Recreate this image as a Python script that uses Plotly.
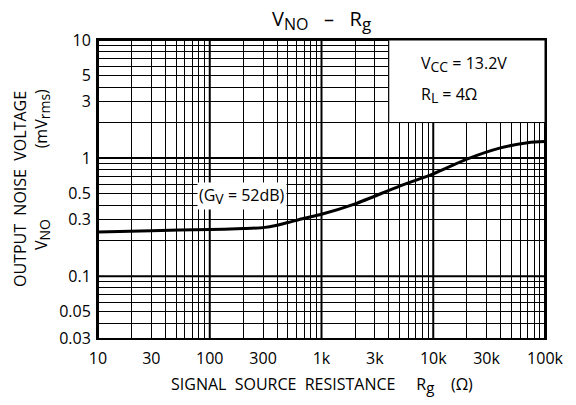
import numpy as np
import plotly.graph_objects as go

# ---- data ----
rg_ohm = [10, 30, 100, 200, 300, 400, 500, 700, 1000, 2000, 5000, 10000, 20000, 40000, 70000, 100000]
vno_mv = [0.237, 0.243, 0.249, 0.253, 0.258, 0.27, 0.285, 0.31, 0.335, 0.41, 0.58, 0.735, 0.98, 1.22, 1.35, 1.38]

x_tickvals = [10, 30, 100, 300, 1000, 3000, 10000, 30000, 100000]
x_ticktext = ["10", "30", "100", "300", "1k", "3k", "10k", "30k", "100k"]
y_tickvals = [0.03, 0.05, 0.1, 0.3, 0.5, 1, 3, 5, 10]
y_ticktext = ["0.03", "0.05", "0.1", "0.3", "0.5", "1", "3", "5", "10"]

x_decades = [10, 100, 1000, 10000, 100000]
y_decades = [0.1, 1, 10]

FONT = "Open Sans"
NB = "\u00a0"


def sub(t, size):
    return "<sub><span style='font-size:%dpx'>%s</span></sub>" % (size, t)


x_minor = [k * d for d in [10, 100, 1000, 10000] for k in range(1, 10)] + [100000]
y_minor = [round(k * d, 4) for d in [0.01, 0.1, 1] for k in range(1, 10) if k * d >= 0.03 - 1e-9] + [10]

fig = go.Figure()
fig.add_trace(go.Scatter(
    x=rg_ohm, y=vno_mv, mode="lines",
    line=dict(color="black", width=3, shape="spline", smoothing=0.8),
    showlegend=False, hoverinfo="skip"))

axis_common = dict(
    type="log", showgrid=False, zeroline=False,
    showline=True, linecolor="black", linewidth=2, mirror=True,
    ticks="", tickfont=dict(family=FONT, size=16, color="black"),
)

fig.update_xaxes(
    **axis_common, range=[1, 5],
    tickmode="array", tickvals=x_tickvals, ticktext=x_ticktext,
    ticklabelstandoff=5,
    minor=dict(tickmode="array", tickvals=x_minor, showgrid=True,
               gridcolor="black", gridwidth=1, ticks=""),
)
fig.update_yaxes(
    **axis_common, range=[np.log10(0.03), 1],
    tickmode="array", tickvals=y_tickvals, ticktext=y_ticktext,
    ticklabelstandoff=2,
    minor=dict(tickmode="array", tickvals=y_minor, showgrid=True,
               gridcolor="black", gridwidth=1, ticks=""),
)

shapes = []
for d in x_decades:
    shapes.append(dict(type="line", xref="x", yref="paper", x0=d, x1=d, y0=0, y1=1,
                       line=dict(color="black", width=2), layer="between"))
for d in y_decades:
    shapes.append(dict(type="line", xref="paper", yref="y", x0=0, x1=1, y0=d, y1=d,
                       line=dict(color="black", width=2), layer="between"))
# condition box (white area hiding the grid)
shapes.append(dict(type="rect", xref="x", yref="y", x0=4000, x1=100000, y0=2, y1=10,
                   fillcolor="white", line=dict(color="black", width=1), layer="between"))
fig.update_layout(shapes=shapes)

ann = []
ann.append(dict(text="V" + sub("NO", 16) + "   \u2013   R" + sub("g", 17), xref="paper", yref="paper",
                x=0.5, y=1, yshift=20, yanchor="middle", showarrow=False,
                font=dict(family=FONT, size=20, color="black")))
ann.append(dict(text="V" + sub("CC", 14) + " = 13.2V", xref="x", yref="y",
                x=np.log10(7500), y=np.log10(6.3), xanchor="left", yanchor="middle", showarrow=False,
                font=dict(family=FONT, size=16, color="black")))
ann.append(dict(text="R" + sub("L", 14) + " = 4\u03a9", xref="x", yref="y",
                x=np.log10(7500), y=np.log10(3.4), xanchor="left", yanchor="middle", showarrow=False,
                font=dict(family=FONT, size=16, color="black")))
ann.append(dict(text="(G" + sub("V", 14) + " = 52dB)", xref="x", yref="y",
                x=np.log10(196), y=np.log10(0.48), showarrow=False, bgcolor="white",
                font=dict(family=FONT, size=16, color="black")))
ann.append(dict(text="OUTPUT" + NB * 2 + "NOISE" + NB * 2 + "VOLTAGE", xref="paper", yref="paper",
                x=0, xshift=-78, xanchor="center", y=0.5, yanchor="middle", yshift=0,
                textangle=-90, showarrow=False,
                font=dict(family=FONT, size=16, color="black")))
ann.append(dict(text="V" + sub("NO", 14) + NB * 17 + "(mV" + sub("rms", 14) + ")", xref="paper", yref="paper",
                x=0, xshift=-56, xanchor="center", y=0.5, yanchor="middle", yshift=19,
                textangle=-90, showarrow=False,
                font=dict(family=FONT, size=16, color="black")))
ann.append(dict(text="SIGNAL  SOURCE  RESISTANCE     R" + sub("g", 15) + "    (\u03a9)",
                xref="paper", yref="paper",
                x=0.5, y=0, yshift=-47, yanchor="middle", showarrow=False,
                font=dict(family=FONT, size=16, color="black")))
fig.update_layout(annotations=ann)

fig.update_layout(
    width=576, height=405,
    margin=dict(l=98, r=26, t=40, b=67),
    paper_bgcolor="white", plot_bgcolor="white",
    font=dict(family=FONT, color="black"),
)

fig.write_html("out.html")
